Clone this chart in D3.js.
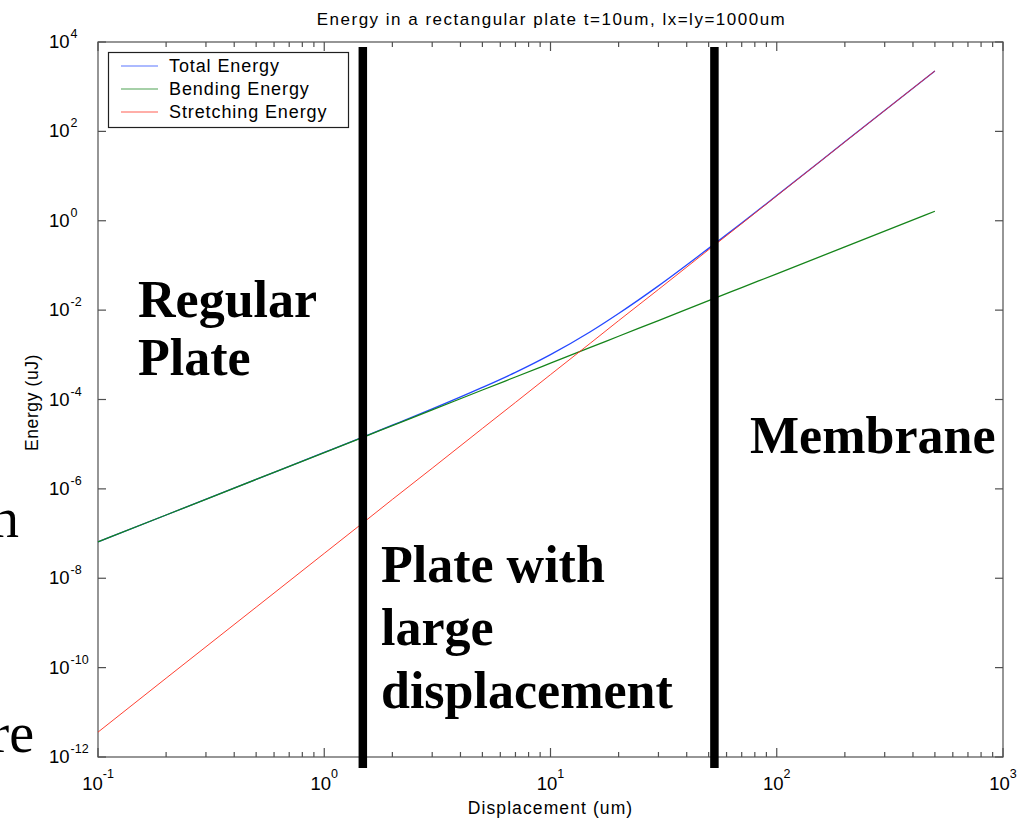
<!DOCTYPE html>
<html>
<head>
<meta charset="utf-8">
<script src="https://cdn.jsdelivr.net/npm/d3@7/dist/d3.min.js"></script>
<style>
  html, body { margin: 0; padding: 0; background: #fff; }
  svg { display: block; }
  .sans { font-family: Arial, "Liberation Sans", sans-serif; }
  .serif { font-family: "Times New Roman", "Liberation Serif", serif; }
</style>
</head>
<body>
<svg id="chart" width="1032" height="821"></svg>
<script>
// Plate deflection energies (uJ) against centre displacement (um)
const displacement = [0.1, 0.2, 0.5, 1, 1.5, 2, 3, 5, 7, 10, 15, 20, 30, 50, 70, 100, 200, 500];
const totalEnergy = [6.5e-8, 2.6e-7, 1.63e-6, 6.54e-6, 1.48e-5, 2.66e-5, 6.14e-5, 1.86e-4, 4.05e-4,
  1.01e-3, 3.28e-3, 8.4e-3, 3.49e-2, 0.241, 0.89, 3.67, 58.3, 2250];
const bendingEnergy = [6.5e-8, 2.6e-7, 1.63e-6, 6.5e-6, 1.46e-5, 2.6e-5, 5.85e-5, 1.63e-4, 3.19e-4,
  6.5e-4, 1.46e-3, 2.6e-3, 5.85e-3, 1.63e-2, 3.19e-2, 6.5e-2, 0.26, 1.63];
const stretchingEnergy = [3.6e-12, 5.8e-11, 2.25e-9, 3.6e-8, 1.82e-7, 5.8e-7, 2.9e-6, 2.25e-5, 8.6e-5,
  3.6e-4, 1.82e-3, 5.8e-3, 2.9e-2, 0.225, 0.86, 3.6, 58, 2250];

const seriesNames = ["Total Energy", "Bending Energy", "Stretching Energy"];
const seriesColors = ["#2448ff", "#15841a", "#ff2a1a"];
const seriesWidths = [1.3, 1.3, 0.9];

// Regime boundaries (um)
const boundaries = [1.48, 53];
const xTickExponents = [-1, 0, 1, 2, 3];
const yTickExponents = [4, 2, 0, -2, -4, -6, -8, -10, -12];

const title = "Energy in a rectangular plate t=10um, lx=ly=1000um";
const xLabel = "Displacement (um)";
const yLabel = "Energy (uJ)";

const svg = d3.select("#chart");
const plotLeft = 98, plotRight = 1003, plotTop = 42, plotBottom = 757;

const x = d3.scaleLog().domain([0.1, 1000]).range([plotLeft, plotRight]);
const y = d3.scaleLog().domain([1e-12, 1e4]).range([plotBottom, plotTop]);

const axisColor = "#505050";

// Frame
svg.append("rect")
  .attr("x", plotLeft).attr("y", plotTop)
  .attr("width", plotRight - plotLeft).attr("height", plotBottom - plotTop)
  .attr("fill", "none").attr("stroke", axisColor).attr("stroke-width", 1.2);

// X ticks: decades (long) and 2..9 (short) on bottom and top edges
const xMinor = [];
for (let e = -1; e < 3; e++) for (let m = 2; m <= 9; m++) xMinor.push(m * Math.pow(10, e));
const xMajor = xTickExponents.map(e => Math.pow(10, e));

const tickG = svg.append("g").attr("stroke", axisColor).attr("stroke-width", 1.2);
xMajor.forEach(v => {
  tickG.append("line").attr("x1", x(v)).attr("x2", x(v)).attr("y1", plotBottom).attr("y2", plotBottom - 9);
  tickG.append("line").attr("x1", x(v)).attr("x2", x(v)).attr("y1", plotTop).attr("y2", plotTop + 9);
});
xMinor.forEach(v => {
  tickG.append("line").attr("x1", x(v)).attr("x2", x(v)).attr("y1", plotBottom).attr("y2", plotBottom - 5);
  tickG.append("line").attr("x1", x(v)).attr("x2", x(v)).attr("y1", plotTop).attr("y2", plotTop + 5);
});
yTickExponents.forEach(e => {
  const v = Math.pow(10, e);
  tickG.append("line").attr("x1", plotLeft).attr("x2", plotLeft + 8).attr("y1", y(v)).attr("y2", y(v));
  tickG.append("line").attr("x1", plotRight).attr("x2", plotRight - 8).attr("y1", y(v)).attr("y2", y(v));
});

// Tick labels as 10 with superscript exponent
xTickExponents.forEach(e => {
  const t = svg.append("text").attr("class", "sans")
    .attr("x", x(Math.pow(10, e))).attr("y", 790)
    .attr("text-anchor", "middle").attr("font-size", 18.5).attr("fill", "#000");
  t.append("tspan").text("10");
  t.append("tspan").attr("dy", -12).attr("font-size", 12.5).text(String(e));
});
yTickExponents.forEach(e => {
  const t = svg.append("text").attr("class", "sans")
    .attr("x", 49).attr("y", y(Math.pow(10, e)) + 6)
    .attr("font-size", 18.5).attr("fill", "#000");
  t.append("tspan").text("10");
  t.append("tspan").attr("dx", 1).attr("dy", -10).attr("font-size", 12.5).text(String(e));
});

// Curves
const seriesValues = [totalEnergy, bendingEnergy, stretchingEnergy];
const line = d3.line().x(d => x(d[0])).y(d => y(d[1])).curve(d3.curveMonotoneX);
const plotG = svg.append("g");
seriesValues.forEach((vals, i) => {
  plotG.append("path")
    .datum(displacement.map((d, j) => [d, vals[j]]))
    .attr("fill", "none").attr("stroke", seriesColors[i])
    .attr("stroke-width", seriesWidths[i])
    .attr("d", line);
});

// Legend
const lg = svg.append("g");
lg.append("rect").attr("x", 108.5).attr("y", 52.5).attr("width", 240).attr("height", 75)
  .attr("fill", "#fff").attr("stroke", "#202020").attr("stroke-width", 1.2);
seriesNames.forEach((name, i) => {
  const cy = 66 + i * 23;
  lg.append("line").attr("x1", 121).attr("x2", 158).attr("y1", cy).attr("y2", cy)
    .attr("stroke", seriesColors[i]).attr("stroke-width", 1.1).attr("opacity", 0.75);
  lg.append("text").attr("class", "sans").attr("x", 169).attr("y", cy + 6)
    .attr("font-size", 18).attr("letter-spacing", 0.9).attr("fill", "#000").text(name);
});

// Regime boundary bars
boundaries.forEach(b => {
  svg.append("rect")
    .attr("x", x(b) - 4.2).attr("y", plotTop + 5)
    .attr("width", 8.5).attr("height", plotBottom - plotTop + 6)
    .attr("fill", "#000");
});

// Title and axis labels
svg.append("text").attr("class", "sans").attr("x", (plotLeft + plotRight) / 2 + 1).attr("y", 25)
  .attr("text-anchor", "middle").attr("font-size", 17).attr("letter-spacing", 1.5)
  .attr("fill", "#000").text(title);
svg.append("text").attr("class", "sans").attr("x", (plotLeft + plotRight) / 2).attr("y", 814)
  .attr("text-anchor", "middle").attr("font-size", 17.5).attr("letter-spacing", 1.1)
  .attr("fill", "#000").text(xLabel);
svg.append("text").attr("class", "sans")
  .attr("transform", "translate(38," + ((plotTop + plotBottom) / 2 + 3) + ") rotate(-90)")
  .attr("text-anchor", "middle").attr("font-size", 17.5).attr("letter-spacing", 0.6)
  .attr("fill", "#000").text(yLabel);

// Region annotations
const annotations = [
  { lines: ["Regular", "Plate"], x: 138, y: 317, gap: 58 },
  { lines: ["Plate with", "large", "displacement"], x: 381, y: 582, gap: 63 },
  { lines: ["Membrane"], x: 750, y: 453, gap: 0 }
];
annotations.forEach(a => {
  const t = svg.append("text").attr("class", "serif")
    .attr("font-size", 52).attr("font-weight", "bold").attr("fill", "#000");
  a.lines.forEach((s, i) => {
    t.append("tspan").attr("x", a.x).attr("y", a.y + i * a.gap).text(s);
  });
});

// Text running in from the slide's left edge
svg.append("text").attr("class", "serif").attr("x", 19).attr("y", 537)
  .attr("text-anchor", "end").attr("font-size", 56).attr("fill", "#000").text("n");
svg.append("text").attr("class", "serif").attr("x", 34).attr("y", 752)
  .attr("text-anchor", "end").attr("font-size", 56).attr("fill", "#000").text("re");
</script>
</body>
</html>
